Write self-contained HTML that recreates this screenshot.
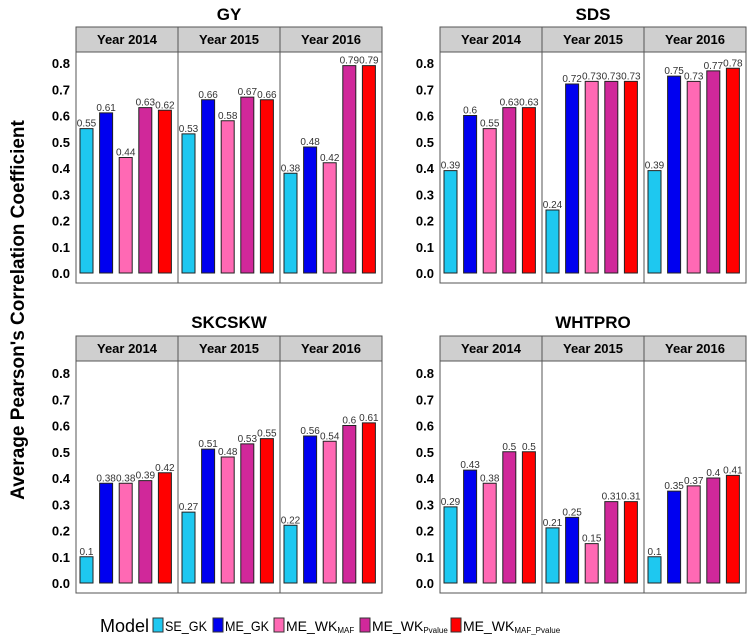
<!DOCTYPE html>
<html><head><meta charset="utf-8"><style>
html,body{margin:0;padding:0;background:#fff;}
svg{display:block;font-family:"Liberation Sans",Arial,sans-serif;}
</style></head><body>
<svg id="chart" width="749" height="644" viewBox="0 0 749 644" xmlns="http://www.w3.org/2000/svg">
<text x="0" y="0" transform="translate(24,310) rotate(-90)" text-anchor="middle" font-size="19" font-weight="bold" fill="#000">Average Pearson's Correlation Coefficient</text>
<g id="legend">
<text x="100" y="632" font-size="18" fill="#000">Model</text>
<rect x="153" y="618" width="10" height="14" fill="#1EC8F0" stroke="#333" stroke-width="1"/>
<text x="165" y="631" font-size="14" textLength="42" lengthAdjust="spacingAndGlyphs">SE_GK</text>
<rect x="213" y="618" width="10" height="14" fill="#0000F0" stroke="#333" stroke-width="1"/>
<text x="225" y="631" font-size="14" textLength="44" lengthAdjust="spacingAndGlyphs">ME_GK</text>
<rect x="274" y="618" width="10" height="14" fill="#FF69B4" stroke="#333" stroke-width="1"/>
<text x="286" y="631" font-size="14">ME_WK<tspan font-size="8" dy="2">MAF</tspan></text>
<rect x="360" y="618" width="10" height="14" fill="#D0289A" stroke="#333" stroke-width="1"/>
<text x="372" y="631" font-size="14">ME_WK<tspan font-size="8" dy="2">Pvalue</tspan></text>
<rect x="451" y="618" width="10" height="14" fill="#FF0000" stroke="#333" stroke-width="1"/>
<text x="463" y="631" font-size="14">ME_WK<tspan font-size="8" dy="2">MAF_Pvalue</tspan></text>
</g>
</svg>
<script>
const traits = ["GY","SDS","SKCSKW","WHTPRO"];
const years = ["Year 2014","Year 2015","Year 2016"];
const models = ["SE_GK","ME_GK","ME_WK_MAF","ME_WK_Pvalue","ME_WK_MAF_Pvalue"];
const yTicks = [0,0.1,0.2,0.3,0.4,0.5,0.6,0.7,0.8];
const gyValues = [[0.55,0.61,0.44,0.63,0.62],[0.53,0.66,0.58,0.67,0.66],[0.38,0.48,0.42,0.79,0.79]];
const sdsValues = [[0.39,0.6,0.55,0.63,0.63],[0.24,0.72,0.73,0.73,0.73],[0.39,0.75,0.73,0.77,0.78]];
const skcskwValues = [[0.1,0.38,0.38,0.39,0.42],[0.27,0.51,0.48,0.53,0.55],[0.22,0.56,0.54,0.6,0.61]];
const whtproValues = [[0.29,0.43,0.38,0.5,0.5],[0.21,0.25,0.15,0.31,0.31],[0.1,0.35,0.37,0.4,0.41]];
const allValues = [gyValues, sdsValues, skcskwValues, whtproValues];
const colors = ["#1EC8F0","#0000F0","#FF69B4","#D0289A","#FF0000"];

const NS = "http://www.w3.org/2000/svg";
const svg = document.getElementById("chart");
function mk(tag, attrs, parent){
  const e = document.createElementNS(NS, tag);
  for (const k in attrs) e.setAttribute(k, attrs[k]);
  (parent||svg).appendChild(e);
  return e;
}
const panelX = [76, 440];
const panelY = [{title:12, strip:27, plotTop:52, base:273, bottom:283},
                {title:320, strip:336, plotTop:361, base:583, bottom:593}];
const facetW = 102, pxPer = 262.5;

traits.forEach((trait, ti) => {
  const px = panelX[ti % 2], g = panelY[Math.floor(ti / 2)];
  const yScale = v => g.base - v * pxPer;
  const panel = mk("g", {});
  
  
  const t = mk("text", {x: px + 153, y: g.title + 8, "text-anchor":"middle", "font-size":"17", "font-weight":"bold"}, panel);
  t.textContent = trait;
  
  
  yTicks.forEach(v => {
    const tl = mk("text", {x: px - 6, y: yScale(v) + 5, "text-anchor":"end", "font-size":"13", "font-weight":"bold"}, panel);
    tl.textContent = v.toFixed(1);
    
    
  });
  years.forEach((yr, yi) => {
    const fx = px + yi * facetW;
    const strip = mk("rect", {x: fx, y: g.strip, width: facetW, height: g.plotTop - g.strip, fill:"#cfcfcf", stroke:"#555", "stroke-width":"1"}, panel);
    
    
    const st = mk("text", {x: fx + facetW/2, y: g.strip + 17, "text-anchor":"middle", "font-size":"13", "font-weight":"bold"}, panel);
    st.textContent = yr;
    
    
    const box = mk("rect", {x: fx, y: g.plotTop, width: facetW, height: g.bottom - g.plotTop, fill:"#fff", stroke:"#555", "stroke-width":"1"}, panel);
    
    
    allValues[ti][yi].forEach((v, mi) => {
      const cx = fx + 10.5 + mi * 19.6;
      const b = mk("rect", {x: cx - 6.5, y: yScale(v), width: 13, height: v * pxPer, fill: colors[mi], stroke:"#222", "stroke-width":"1"}, panel);
      
      
      const lb = mk("text", {x: cx, y: yScale(v) - 2, "text-anchor":"middle", "font-size":"10", fill:"#333"}, panel);
      lb.textContent = String(v);
      
      
    });
  });
});
</script>
</body></html>
